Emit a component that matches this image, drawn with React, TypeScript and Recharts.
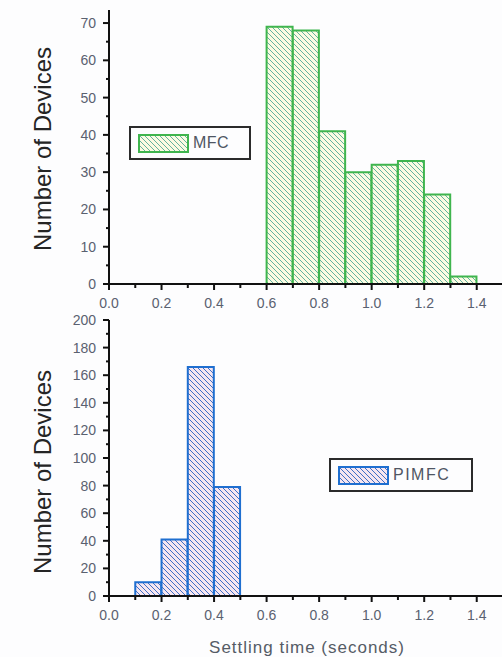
import { BarChart, Bar, XAxis, YAxis } from "recharts";

// bin centres (seconds) and counts
const mfcBins = [0.65, 0.75, 0.85, 0.95, 1.05, 1.15, 1.25, 1.35];
const mfcCounts = [69, 68, 41, 30, 32, 33, 24, 2];
const pimfcBins = [0.15, 0.25, 0.35, 0.45];
const pimfcCounts = [10, 41, 166, 79];

const xTicks = [0, 0.1, 0.2, 0.3, 0.4, 0.5, 0.6, 0.7, 0.8, 0.9, 1.0, 1.1, 1.2, 1.3, 1.4];
const mfcYTicks = [0, 5, 10, 15, 20, 25, 30, 35, 40, 45, 50, 55, 60, 65, 70];
const pimfcYTicks = [0, 10, 20, 30, 40, 50, 60, 70, 80, 90, 100, 110, 120, 130, 140, 150, 160, 170, 180, 190, 200];

const mfcData = mfcBins.map((x, i) => ({ x, count: mfcCounts[i] }));
const pimfcData = pimfcBins.map((x, i) => ({ x, count: pimfcCounts[i] }));

const FONT = "'Liberation Sans', Arial, sans-serif";
const TICK_COLOR = "#5a6170";
const AXIS_X = 109;

function makeXTick(axisY: number) {
  return (props: any) => {
    const { x, payload } = props;
    const v = payload.value as number;
    const major = Math.round(v * 10) % 2 === 0;
    return (
      <g>
        <line x1={x} x2={x} y1={axisY - (major ? 1 : 0)} y2={axisY + (major ? 6 : 4)} stroke="#111" strokeWidth={2} />
        {major && (
          <text x={x} y={axisY + 14} dy="0.71em" textAnchor="middle" fontSize={14} fill={TICK_COLOR} fontFamily={FONT}>
            {v.toFixed(1)}
          </text>
        )}
      </g>
    );
  };
}

function makeYTick(step: number) {
  return (props: any) => {
    const { y, payload } = props;
    const v = payload.value as number;
    const major = v % step === 0;
    return (
      <g>
        <line x1={AXIS_X - (major ? 6 : 3)} x2={AXIS_X} y1={y} y2={y} stroke="#111" strokeWidth={2} />
        {major && (
          <text x={AXIS_X - 13} y={y} dy="0.355em" textAnchor="end" fontSize={14} fill={TICK_COLOR} fontFamily={FONT}>
            {v}
          </text>
        )}
      </g>
    );
  };
}

const YTitle = ({ cy }: { cy: number }) => (
  <text
    x={42}
    y={cy}
    transform={`rotate(-90, 42, ${cy})`}
    textAnchor="middle"
    dominantBaseline="central"
    fontSize={24}
    fill="#252525"
    fontFamily={FONT}
  >
    Number of Devices
  </text>
);

const XTitle = () => (
  <text x={307} y={337} textAnchor="middle" dominantBaseline="central" fontSize={17} letterSpacing={1} fill="#555c66" fontFamily={FONT}>
    Settling time (seconds)
  </text>
);

function LegendBox({ patternId, stroke, label, width, spacing, left, top }: any) {
  return (
    <div
      style={{
        position: "absolute",
        left,
        top,
        boxSizing: "border-box",
        width,
        height: 34,
        border: "2px solid #2b2b2b",
        display: "flex",
        alignItems: "center",
        paddingLeft: 7,
        fontFamily: FONT,
        fontSize: 16,
        color: "#4f5663",
        letterSpacing: spacing,
      }}
    >
      <svg width={51} height={19} style={{ marginRight: 4, display: "block" }}>
        <rect x={1} y={1} width={49} height={17} fill={`url(#${patternId})`} stroke={stroke} strokeWidth={2} />
      </svg>
      {label}
    </div>
  );
}

function Hatch({ id, bg, line }: { id: string; bg: string; line: string }) {
  return (
    <pattern id={id} patternUnits="userSpaceOnUse" width={5} height={5}>
      <rect width={5} height={5} fill={bg} />
      <path d="M-1,-1 L6,6 M-1,4 L1,6 M4,-1 L6,1" stroke={line} strokeWidth={1} />
    </pattern>
  );
}

export default function App() {
  return (
    <div style={{ position: "absolute", left: 0, top: 0, width: 502, height: 657, overflow: "hidden", background: "#fdfdfe" }}>
      <div style={{ position: "absolute", left: 0, top: 0 }}>
        <BarChart width={503} height={314} data={mfcData} margin={{ top: 10, right: 0, bottom: 0, left: 0 }} barCategoryGap={0} barGap={0}>
          <defs>
            <Hatch id="hatchGreen" bg="#fbfbe2" line="#62b3a0" />
            <Hatch id="hatchBlue" bg="#f6e6f0" line="#3f6fc6" />
          </defs>
          <XAxis
            dataKey="x"
            type="number"
            domain={[0, 1.5]}
            ticks={xTicks}
            interval={0}
            height={30}
            tickLine={false}
            axisLine={{ stroke: "#111", strokeWidth: 2 }}
            tick={makeXTick(284)}
          />
          <YAxis
            type="number"
            domain={[0, 73.5]}
            ticks={mfcYTicks}
            interval={0}
            width={AXIS_X}
            tickLine={false}
            axisLine={{ stroke: "#111", strokeWidth: 2 }}
            tick={makeYTick(10)}
            label={<YTitle cy={149} />}
          />
          <Bar dataKey="count" fill="url(#hatchGreen)" stroke="#3fb54e" strokeWidth={2} isAnimationActive={false} />
        </BarChart>
      </div>
      <LegendBox patternId="hatchGreen" stroke="#3fb54e" label="MFC" width={122} spacing={0.5} left={129} top={126} />
      <div style={{ position: "absolute", left: 0, top: 310 }}>
        <BarChart width={503} height={346} data={pimfcData} margin={{ top: 10, right: 0, bottom: 0, left: 0 }} barCategoryGap={0} barGap={0}>
          <XAxis
            dataKey="x"
            type="number"
            domain={[0, 1.5]}
            ticks={xTicks}
            interval={0}
            height={60}
            tickLine={false}
            axisLine={{ stroke: "#111", strokeWidth: 2 }}
            tick={makeXTick(286)}
            label={<XTitle />}
          />
          <YAxis
            type="number"
            domain={[0, 200]}
            ticks={pimfcYTicks}
            interval={0}
            width={AXIS_X}
            tickLine={false}
            axisLine={{ stroke: "#111", strokeWidth: 2 }}
            tick={makeYTick(20)}
            label={<YTitle cy={162} />}
          />
          <Bar dataKey="count" fill="url(#hatchBlue)" stroke="#1f6fd0" strokeWidth={2} isAnimationActive={false} />
        </BarChart>
      </div>
      <LegendBox patternId="hatchBlue" stroke="#1f6fd0" label="PIMFC" width={144} spacing={1.5} left={329} top={458} />
    </div>
  );
}
